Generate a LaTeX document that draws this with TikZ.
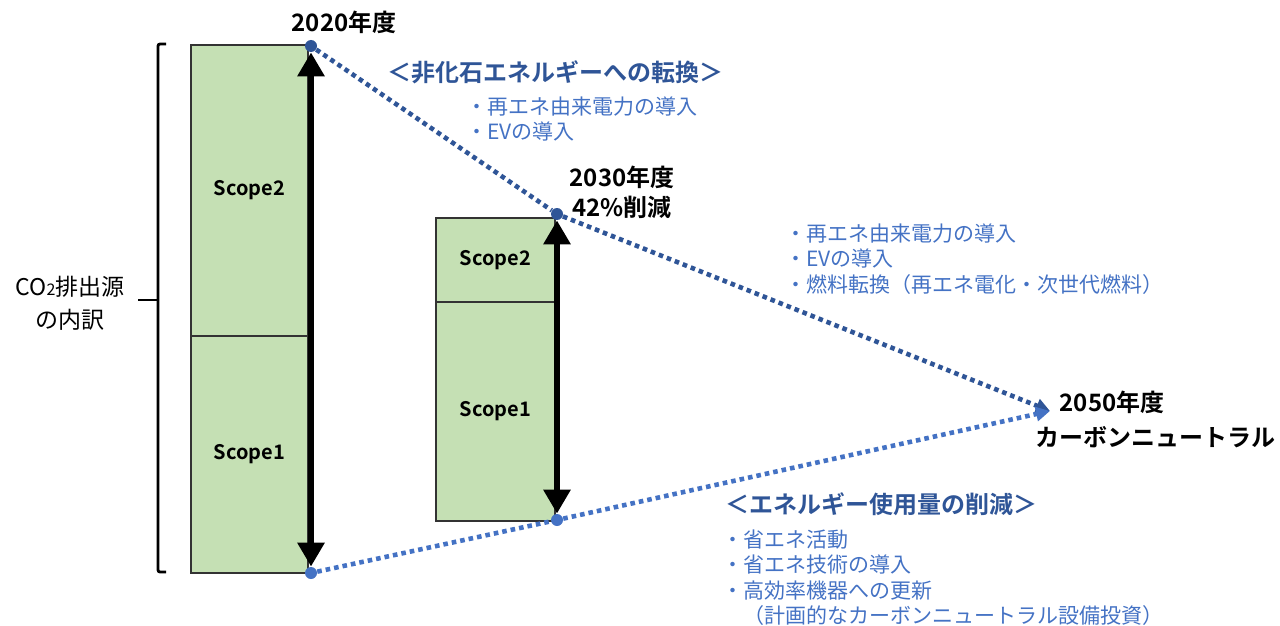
\documentclass[tikz,border=0pt]{standalone}
\usepackage{fontspec}
\setmainfont{Noto Sans CJK JP}[BoldFont={Noto Sans CJK JP Bold}]
\usetikzlibrary{arrows.meta,positioning}
\definecolor{barfill}{HTML}{C5E0B4}
\definecolor{headblue}{HTML}{2F5597}
\definecolor{listblue}{HTML}{4472C4}
\begin{document}
\begin{tikzpicture}[%
        x=0.5pt, y=-0.5pt,
        every node/.style={inner sep=0pt},
        bar/.style={draw=black!80, line width=0.8pt, fill=barfill, minimum width=58.5pt,
          font=\fontsize{10}{12}\selectfont\bfseries},
        dot/.style={circle, minimum size=6pt, fill=#1},
        bigarrow/.style={line width=3pt, black, {Triangle[length=12pt,width=13pt]}-{Triangle[length=12pt,width=13pt]}},
        route/.style={draw=#1, line width=2.3pt, dash pattern=on 2.3pt off 2pt, -{Triangle[length=7pt,width=7pt]}},
        year/.style={font=\fontsize{12}{15}\selectfont\bfseries, align=center},
        head/.style={font=\fontsize{12}{15}\selectfont\bfseries, text=headblue},
        items/.style={font=\fontsize{10.5}{12.75}\selectfont, text=listblue, align=left, anchor=west}
      ]
      \useasboundingbox (0,0) rectangle (1280,626);
      % bars
      \node (a2) [bar, minimum height=145.5pt, anchor=north west] at (190,44) {Scope2};
      \node (a1) [bar, minimum height=118.5pt, anchor=north west] at (190,335) {Scope1};
      \node (b2) [bar, minimum width=59.5pt, minimum height=42pt, anchor=north west] at (435,217) {Scope2};
      \node (b1) [bar, minimum width=59.5pt, minimum height=109.5pt, anchor=north west] at (435,301) {Scope1};
      % bracket
      \draw [line width=1.4pt, rounded corners=1pt] (166,44) -- (158,44) -- (158,572) -- (166,572);
      \draw [line width=1.4pt] (138,300) -- (158,300);
      \node (src) [align=center, font=\fontsize{11.5}{16.5}\selectfont] at (70,303)
        {CO{\fontsize{8}{8}\selectfont 2}排出源\\の内訳};
      % points
      \node (t20) [dot=headblue] at (311,46) {};
      \node (d20) [dot=listblue] at (311,573) {};
      \node (t30) [dot=headblue] at (557,214) {};
      \node (d30) [dot=listblue] at (557,520) {};
      \coordinate (goal) at (1050,411);
      \draw [bigarrow] (t20) -- (d20);
      \draw [bigarrow] (t30) -- (d30);
      \draw [route=headblue, -] (t20) -- (t30);
      \draw [route=headblue] (t30) -- (goal);
      \draw [route=listblue, -] (d20) -- (d30);
      \draw [route=listblue] (d30) -- (goal);
      % labels
      \node (y20) [year] at (344,22) {2020年度};
      \node (y30) [year] at (622,192) {2030年度\\42\%削減};
      \node (y50) [year] at (1112,402) {2050年度};
      \node (cn) [year] at (1155,437) {カーボンニュートラル};
      \node (hA) [head] at (555,72) {＜非化石エネルギーへの転換＞};
      \node (lA) [items] at (466,119) {・再エネ由来電力の導入\\・EVの導入};
      \node (lB) [items] at (785,259) {・再エネ由来電力の導入\\・EVの導入\\・燃料転換（再エネ電化・次世代燃料）};
      \node (hB) [head] at (881,504) {＜エネルギー使用量の削減＞};
      \node (lC) [items] at (722,577.5) {・省エネ活動\\・省エネ技術の導入\\・高効率機器への更新\\　（計画的なカーボンニュートラル設備投資）};
    \end{tikzpicture}
\end{document}
